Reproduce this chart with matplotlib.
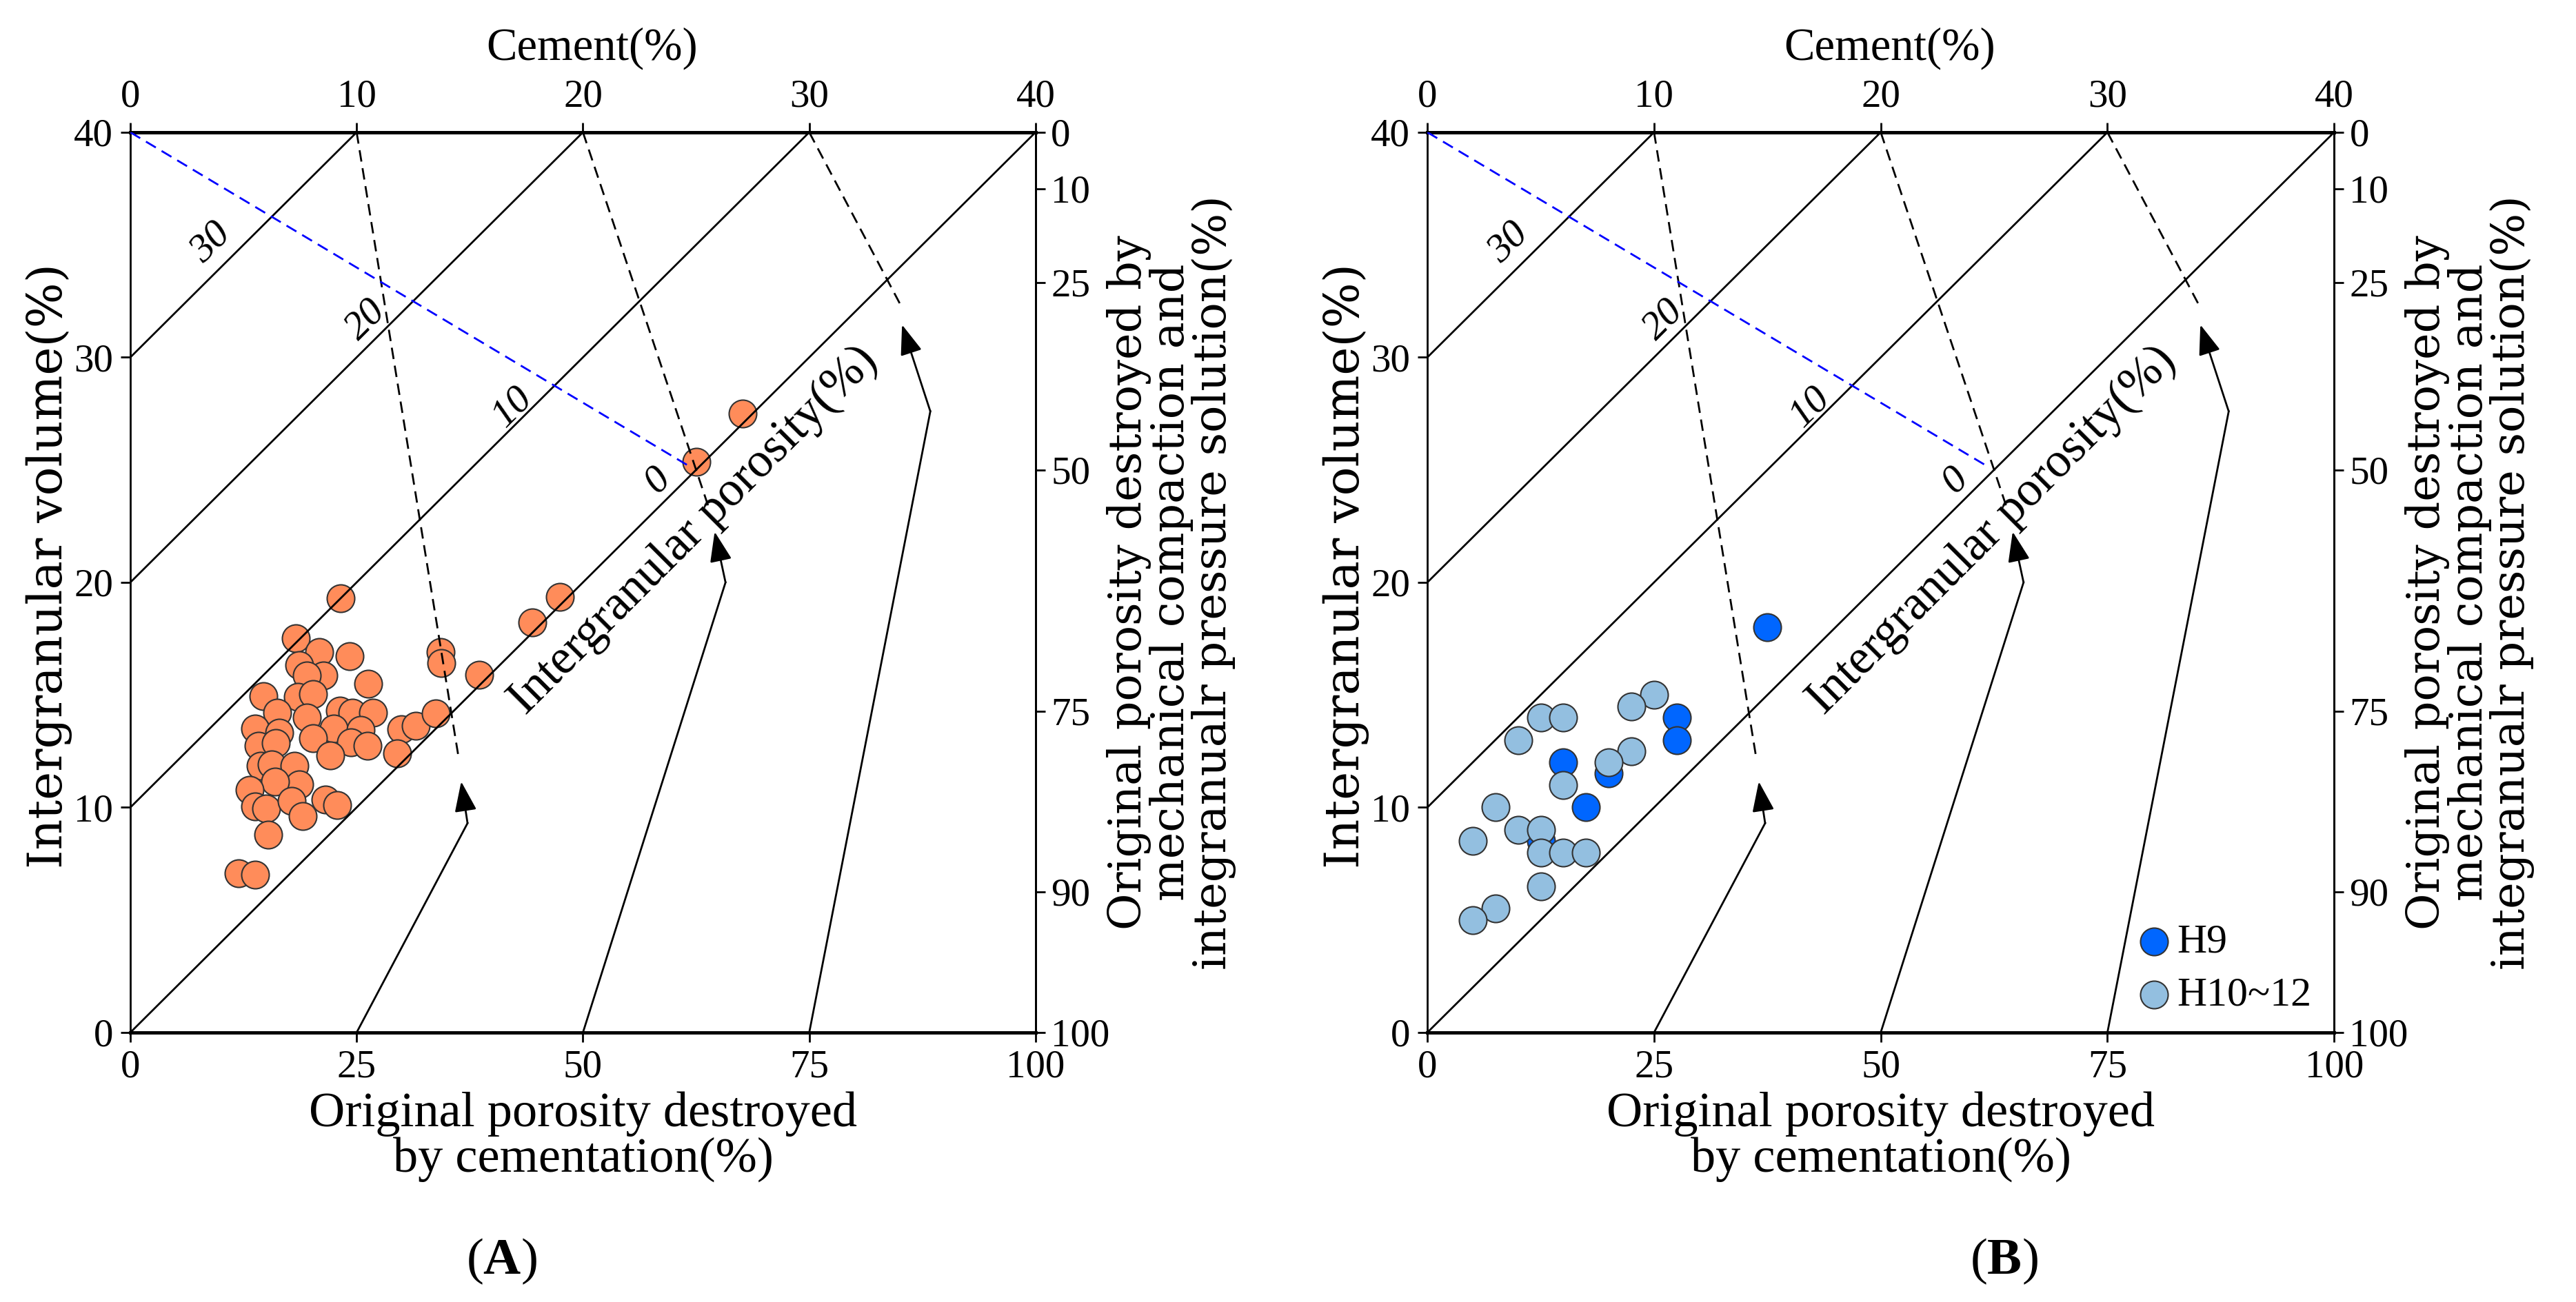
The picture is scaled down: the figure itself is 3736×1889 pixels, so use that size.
import numpy as np
import matplotlib
matplotlib.use('Agg')
import matplotlib.pyplot as plt

plt.rcParams['font.family'] = 'Liberation Serif'
plt.rcParams['mathtext.fontset'] = 'custom'
plt.rcParams['mathtext.rm'] = 'Liberation Serif'
plt.rcParams['mathtext.bf'] = 'Liberation Serif:bold'

#---------------------------- data ----------------------#
# panel A (cement %, intergranular volume %)
cement_a = [9.30, 7.30, 8.36, 9.70, 7.47, 8.53, 7.79, 10.52, 13.70, 13.75,
            15.41, 17.75, 18.97, 27.05, 25.01, 5.88, 7.39, 8.07, 6.49, 7.79,
            9.26, 9.80, 10.73, 5.51, 6.57, 8.98, 10.16, 8.07, 5.67, 6.44,
            9.75, 10.49, 11.96, 12.61, 13.51, 11.79, 8.82, 5.75, 6.24, 7.25,
            7.47, 6.41, 5.26, 5.51, 6.00, 7.14, 8.61, 9.15, 7.63, 6.08,
            4.77, 5.51]
igv_a = [19.30, 17.51, 16.92, 16.71, 16.31, 15.86, 15.86, 15.51, 16.89, 16.40,
         15.90, 18.23, 19.35, 27.50, 25.37, 14.95, 14.90, 15.04, 14.22, 14.00,
         14.30, 14.22, 14.22, 13.51, 13.31, 13.51, 13.43, 13.07, 12.74, 12.85,
         12.90, 12.74, 13.48, 13.64, 14.17, 12.41, 12.30, 11.84, 11.92, 11.84,
         11.02, 11.15, 10.77, 10.03, 9.95, 10.28, 10.36, 10.12, 9.62, 8.80,
         7.08, 7.00]

# panel B
cement_h9 = [15.0, 11.0, 11.0, 6.0, 8.0, 7.0, 5.0]
igv_h9 = [18.0, 14.0, 13.0, 12.0, 11.5, 10.0, 8.5]
cement_h10 = [10.0, 9.0, 5.0, 6.0, 4.0, 9.0, 8.0, 6.0, 3.0, 4.0,
              5.0, 2.0, 5.0, 6.0, 7.0, 5.0, 3.0, 2.0]
igv_h10 = [15.0, 14.5, 14.0, 14.0, 13.0, 12.5, 12.0, 11.0, 10.0, 9.0,
           9.0, 8.5, 8.0, 8.0, 8.0, 6.5, 5.5, 5.0]

cement_ticks = [0, 10, 20, 30, 40]
cementation_labels = ['0', '25', '50', '75', '100']
compaction_ticks = [0, 10, 25, 50, 75, 90, 100]
porosity_lines = [30, 20, 10, 0]

# guide lines (cement %, intergranular volume %)
dash_end_x = [14.50, 25.60, 34.05]
dash_end_y = [12.25, 23.20, 32.30]
kink_x = [14.90, 26.30, 35.35]
kink_y = [9.30, 20.00, 27.60]
tip_x = [14.62, 25.82, 34.10]
tip_y = [11.15, 22.25, 31.45]
blue_end = (24.8, 25.1)

P0 = 40.0  # original porosity


def igv_to_copl(igv):
    igv = np.asarray(igv, dtype=float)
    return (P0 - (100 - P0) * igv / (100 - igv)) / P0 * 100


def copl_to_igv(p):
    c = P0 - np.asarray(p, dtype=float) * P0 / 100
    return 100 * c / ((100 - P0) + c)


def draw_panel(ax):
    ax.set_xlim(0, 40)
    ax.set_ylim(0, 40)

    # lines of equal intergranular porosity
    for v in porosity_lines:
        ax.plot([0, 40 - v], [v, 40], color='k', lw=2, zorder=3)
    label_pos = [(3.56, 35.1), (10.4, 31.67), (16.9, 27.8), (23.3, 24.55)]
    for v, (lx, ly) in zip(porosity_lines, label_pos):
        ax.text(lx, ly, str(v), rotation=45, ha='center', va='center',
                fontsize=42, style='italic', zorder=4)
    ax.text(24.9, 22.3, 'Intergranular porosity(%)', rotation=45,
            ha='center', va='center', fontsize=51, zorder=4)

    # compaction / cementation guides
    for i in range(3):
        ax.plot([cement_ticks[i + 1], dash_end_x[i]], [40, dash_end_y[i]],
                color='k', lw=2, ls=(0, (6, 3.5)), zorder=3)
        ax.plot([cement_ticks[i + 1], kink_x[i]], [0, kink_y[i]],
                color='k', lw=2, zorder=3)
        ax.annotate('', xy=(tip_x[i], tip_y[i]), xytext=(kink_x[i], kink_y[i]),
                    arrowprops=dict(arrowstyle='-|>,head_length=0.9,head_width=0.33',
                                    color='k', lw=2, shrinkA=0, shrinkB=0,
                                    mutation_scale=30), zorder=3)
    ax.plot([0, blue_end[0]], [40, blue_end[1]], color='#0000FF', lw=2,
            ls=(0, (6, 3.5)), zorder=3)

    # axes, ticks
    ax.set_xticks(cement_ticks)
    ax.set_xticklabels(cementation_labels)
    ax.set_yticks(cement_ticks)
    ax.tick_params(direction='out', length=10, width=2, labelsize=41, pad=8)
    for s in ['top', 'bottom']:
        ax.spines[s].set_linewidth(3.5)
    for s in ['left', 'right']:
        ax.spines[s].set_linewidth(2)

    top = ax.secondary_xaxis('top')
    top.set_xticks(cement_ticks)
    top.tick_params(direction='out', length=10, width=2, labelsize=41, pad=8)
    top.spines['top'].set_linewidth(3.5)

    right = ax.secondary_yaxis('right', functions=(igv_to_copl, copl_to_igv))
    right.set_yticks(compaction_ticks)
    right.set_yticklabels([str(t) for t in compaction_ticks])
    right.tick_params(direction='out', length=10, width=2, labelsize=41, pad=6)
    right.spines['right'].set_linewidth(2)

    ax.text(0.51, 1.093, 'Cement(%)', transform=ax.transAxes, ha='center',
            va='center', fontsize=48)
    ax.text(0.5, -0.116, 'Original porosity destroyed\nby cementation(%)',
            transform=ax.transAxes, ha='center', va='center', fontsize=52,
            linespacing=1.0)
    ax.text(-0.09, 0.518, 'Intergranular volume(%)', transform=ax.transAxes,
            rotation=90, ha='center', va='center', fontsize=50,
            family='DejaVu Serif')
    ax.text(1.15, 0.5, 'Original porosity destroyed by\nmechanical compaction and\n'
            'integranualr pressure solution(%)', transform=ax.transAxes,
            rotation=90, ha='center', va='center', multialignment='center',
            fontsize=47, family='DejaVu Serif', linespacing=0.94)


fig = plt.figure(figsize=(37.36, 18.89), dpi=100)
ax_a = fig.add_axes([0.0506, 0.2070, 0.3514, 0.6914])
ax_b = fig.add_axes([0.5541, 0.2070, 0.3520, 0.6914])

draw_panel(ax_a)
draw_panel(ax_b)

ax_a.scatter(cement_a, igv_a, s=830, color='#FF8C5A', edgecolor='#333333',
             linewidth=1.5, zorder=2)

ax_b.scatter(cement_h9, igv_h9, s=830, color='#0066FF', edgecolor='#333333',
             linewidth=1.5, zorder=2, label='H9')
ax_b.scatter(cement_h10, igv_h10, s=830, color='#93BFE0', edgecolor='#333333',
             linewidth=1.5, zorder=2, label='H10~12')
ax_b.legend(loc='lower left', bbox_to_anchor=(0.747, -0.012), frameon=False,
            fontsize=43, handletextpad=0.05, borderpad=0.2, labelspacing=0.38,
            handlelength=1.0)

fig.text(0.1946, 0.031, r'($\mathbf{A}$)', ha='center', va='center', fontsize=54)
fig.text(0.778, 0.031, r'($\mathbf{B}$)', ha='center', va='center', fontsize=54)

fig.savefig('out.png', dpi=100)
